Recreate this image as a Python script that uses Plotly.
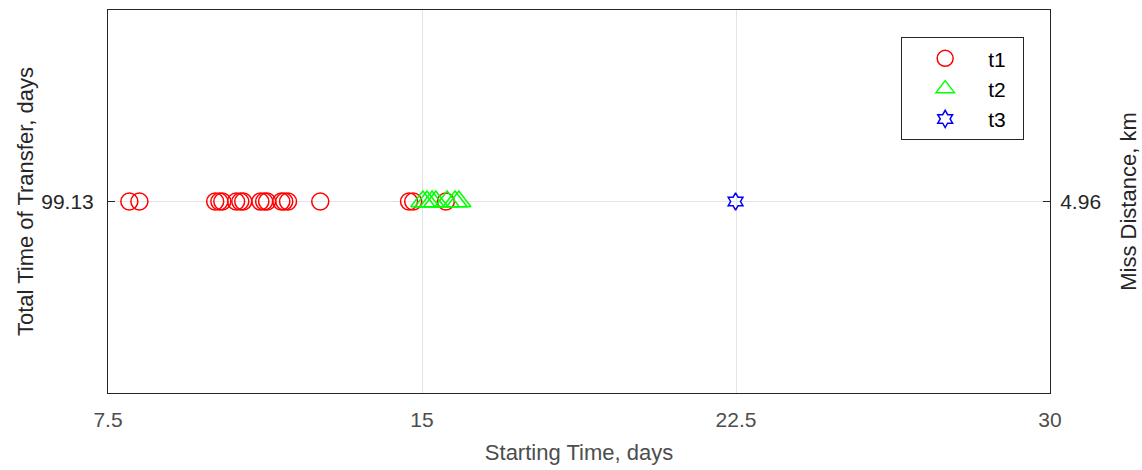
import plotly.graph_objects as go

# Data
t1_start = [8.01, 8.25, 10.06, 10.16, 10.23, 10.56, 10.66, 10.73, 11.14, 11.23, 11.30,
            11.64, 11.71, 11.80, 12.57, 14.69, 14.79, 15.57]
t2_start = [15.02, 15.12, 15.24, 15.33, 15.60, 15.79, 15.88]
t3_start = [22.49]
transfer_time = 99.13
miss_distance = 4.96

x_ticks = [7.5, 15, 22.5, 30]
x_tick_text = ["7.5", "15", "22.5", "30"]
series_names = ["t1", "t2", "t3"]

FONT = "Liberation Sans, Arial, sans-serif"
AX = "#262626"
GRID = "#e3e3e3"
TICKF = 21
TITLEF = 22
PAD = "\u00a0\u00a0"  # right padding inside the legend box

fig = go.Figure()
fig.add_trace(go.Scatter(
    x=t1_start, y=[transfer_time] * len(t1_start), mode="markers", name=series_names[0] + PAD, legendgroup="a",
    marker=dict(symbol="circle-open", size=17, color="red", line=dict(width=1.5, color="red"))))
fig.add_trace(go.Scatter(
    x=t2_start, y=[transfer_time] * len(t2_start), mode="markers", name=series_names[1] + PAD, legendgroup="b",
    marker=dict(symbol="triangle-up-open", size=21, color="#00ff00", line=dict(width=1.5, color="#00ff00"))))
fig.add_trace(go.Scatter(
    x=t3_start, y=[miss_distance] * len(t3_start), mode="markers", name=series_names[2] + PAD, yaxis="y2", legendgroup="c",
    marker=dict(symbol="hexagram-open", size=13, color="blue", line=dict(width=1.5, color="blue"))))

d = 1.0
fig.update_layout(
    width=1142, height=470,
    margin=dict(l=108, r=92, t=10, b=77),
    paper_bgcolor="white", plot_bgcolor="white",
    font=dict(family=FONT, size=TICKF, color=AX),
    showlegend=True,
    legend=dict(x=0.842, y=0.929, xanchor="left", yanchor="top",
                bordercolor=AX, borderwidth=1, bgcolor="white",
                font=dict(size=TICKF, color="#000000"), itemwidth=76,
                traceorder="grouped", tracegroupgap=0),
    xaxis=dict(range=[7.5, 30], tickvals=x_ticks, ticktext=x_tick_text,
               showgrid=True, gridcolor=GRID, gridwidth=1,
               showline=True, linecolor=AX, linewidth=1, mirror=True,
               ticks="", zeroline=False, ticklabelstandoff=8, automargin=False,
               title=dict(text="Starting Time, days", font=dict(size=TITLEF, color="#4d4d4d"), standoff=14),
               tickfont=dict(size=TICKF, color="#4d4d4d")),
    yaxis=dict(range=[transfer_time - d, transfer_time + d], tickvals=[transfer_time],
               ticktext=["99.13"], showgrid=True, gridcolor=GRID,
               showline=True, linecolor=AX, linewidth=1, mirror=False,
               ticks="inside", ticklen=7, tickcolor=AX, zeroline=False, ticklabelstandoff=9,
               automargin=False,
               title=dict(text="Total Time of Transfer, days", font=dict(size=TITLEF, color="#262626"), standoff=1),
               tickfont=dict(size=TICKF, color="#262626")),
    yaxis2=dict(range=[miss_distance - d, miss_distance + d], tickvals=[miss_distance],
                ticktext=["4.96"], overlaying="y", side="right", showgrid=False,
                showline=True, linecolor=AX, linewidth=1, automargin=False,
                ticks="inside", ticklen=7, tickcolor=AX, zeroline=False, ticklabelstandoff=5,
                title=dict(text="Miss Distance, km", font=dict(size=TITLEF, color="#262626"), standoff=20),
                tickfont=dict(size=TICKF, color="#262626")),
)

fig.write_html("out.html")
